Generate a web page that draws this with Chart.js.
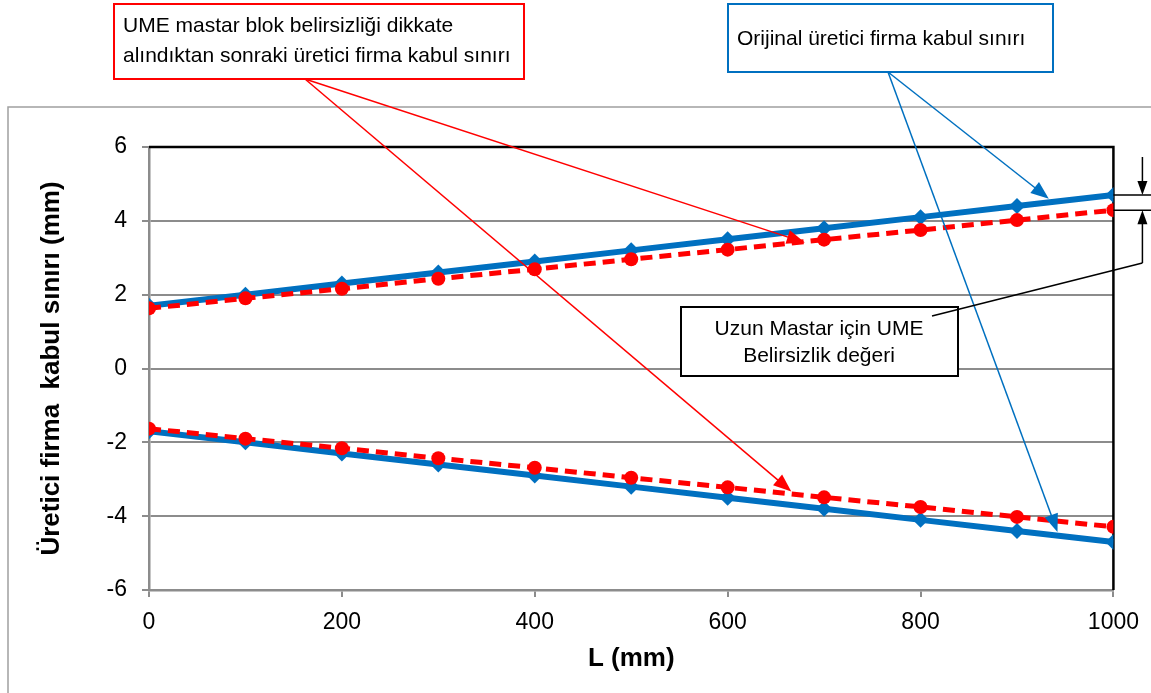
<!DOCTYPE html>
<html lang="tr">
<head>
  <meta charset="UTF-8">
  <title>Üretici firma kabul sınırı</title>
  <script src="https://cdn.jsdelivr.net/npm/chart.js"></script>
  <style>
    body { margin: 0; background: #fff; }
    #wrap { width: 1151px; height: 693px; }
  </style>
</head>
<body>
<div id="wrap"><canvas id="limitChart"></canvas></div>

<script>
  // L (mm)
  const lengths = [0, 100, 200, 300, 400, 500, 600, 700, 800, 900, 1000];
  // original manufacturer limits
  const blueUpper = [1.7, 2.0, 2.3, 2.6, 2.9, 3.2, 3.5, 3.8, 4.1, 4.4, 4.7];
  const blueLower = [-1.7, -2.0, -2.3, -2.6, -2.9, -3.2, -3.5, -3.8, -4.1, -4.4, -4.7];
  // limits after UME uncertainty
  const redUpper = [1.63, 1.9, 2.16, 2.43, 2.69, 2.96, 3.22, 3.49, 3.75, 4.02, 4.29];
  const redLower = [-1.63, -1.9, -2.16, -2.43, -2.69, -2.96, -3.22, -3.49, -3.75, -4.02, -4.29];

  const redText = ['UME mastar blok belirsizliği dikkate', 'alındıktan sonraki üretici firma kabul sınırı'];
  const blueText = 'Orijinal üretici firma kabul sınırı';
  const umeText = ['Uzun Mastar için UME', 'Belirsizlik değeri'];

  const BLUE = '#0070C0';
  const RED = '#FF0000';
  const GRID = '#8c8c8c';

  function pts(ys) {
    return lengths.map((x, i) => ({x: x, y: ys[i]}));
  }

  function arrow(ctx, x1, y1, x2, y2, color, len, half) {
    const a = Math.atan2(y2 - y1, x2 - x1);
    ctx.strokeStyle = color;
    ctx.fillStyle = color;
    ctx.beginPath();
    ctx.moveTo(x1, y1);
    ctx.lineTo(x2 - Math.cos(a) * len * 0.8, y2 - Math.sin(a) * len * 0.8);
    ctx.stroke();
    ctx.beginPath();
    ctx.moveTo(x2, y2);
    ctx.lineTo(x2 - Math.cos(a) * len + Math.sin(a) * half, y2 - Math.sin(a) * len - Math.cos(a) * half);
    ctx.lineTo(x2 - Math.cos(a) * len - Math.sin(a) * half, y2 - Math.sin(a) * len + Math.cos(a) * half);
    ctx.closePath();
    ctx.fill();
  }

  const framePlugin = {
    id: 'frame',
    beforeDraw(chart) {
      const ctx = chart.ctx;
      ctx.save();
      ctx.fillStyle = '#fff';
      ctx.fillRect(0, 0, chart.width, chart.height);
      ctx.strokeStyle = '#a0a0a0';
      ctx.lineWidth = 1.5;
      ctx.strokeRect(8, 107, 1300, 800);
      ctx.restore();
    },
    beforeDatasetsDraw(chart) {
      const ctx = chart.ctx;
      const a = chart.chartArea;
      ctx.save();
      ctx.strokeStyle = '#000';
      ctx.lineWidth = 2.5;
      ctx.beginPath();
      ctx.moveTo(a.left, a.top);
      ctx.lineTo(a.right, a.top);
      ctx.lineTo(a.right, a.bottom);
      ctx.stroke();
      ctx.restore();
    }
  };

  const notesPlugin = {
    id: 'notes',
    afterDraw(chart) {
      const ctx = chart.ctx;
      const sx = chart.scales.x, sy = chart.scales.y;
      const a = chart.chartArea;
      ctx.save();
      ctx.font = '21px Arial, "Liberation Sans", sans-serif';
      ctx.textBaseline = 'middle';

      // red box
      ctx.fillStyle = '#fff';
      ctx.fillRect(114, 4, 410, 75);
      ctx.strokeStyle = RED;
      ctx.lineWidth = 2;
      ctx.strokeRect(114, 4, 410, 75);
      ctx.fillStyle = '#000';
      ctx.textAlign = 'left';
      ctx.fillText(redText[0], 123, 26);
      ctx.fillText(redText[1], 123, 56);

      ctx.lineWidth = 1.5;
      arrow(ctx, 305, 79, sx.getPixelForValue(680), sy.getPixelForValue(3.41), RED, 18, 7);
      arrow(ctx, 305, 79, sx.getPixelForValue(666), sy.getPixelForValue(-3.33), RED, 18, 7);

      // blue box
      ctx.fillStyle = '#fff';
      ctx.fillRect(728, 4, 325, 68);
      ctx.strokeStyle = BLUE;
      ctx.lineWidth = 2;
      ctx.strokeRect(728, 4, 325, 68);
      ctx.fillStyle = '#000';
      ctx.fillText(blueText, 737, 39);

      ctx.lineWidth = 1.5;
      arrow(ctx, 888, 72, sx.getPixelForValue(933), sy.getPixelForValue(4.6), BLUE, 18, 7);
      arrow(ctx, 888, 72, sx.getPixelForValue(942), sy.getPixelForValue(-4.43), BLUE, 18, 7);

      // uncertainty dimension at L = 1000
      const yb = sy.getPixelForValue(blueUpper[blueUpper.length - 1]);
      const yr = sy.getPixelForValue(redUpper[redUpper.length - 1]);
      const dx = a.right + 29;
      ctx.strokeStyle = '#000';
      ctx.lineWidth = 1.5;
      ctx.beginPath();
      ctx.moveTo(a.right, yb); ctx.lineTo(chart.width, yb);
      ctx.moveTo(a.right, yr); ctx.lineTo(chart.width, yr);
      ctx.stroke();
      arrow(ctx, dx, 157, dx, yb, '#000', 14, 5);
      arrow(ctx, dx, 263, dx, yr, '#000', 14, 5);

      // UME box
      ctx.fillStyle = '#fff';
      ctx.fillRect(681, 307, 277, 69);
      ctx.strokeStyle = '#000';
      ctx.lineWidth = 2;
      ctx.strokeRect(681, 307, 277, 69);
      ctx.lineWidth = 1.5;
      ctx.beginPath();
      ctx.moveTo(dx, 263);
      ctx.lineTo(932, 316);
      ctx.stroke();
      ctx.fillStyle = '#000';
      ctx.textAlign = 'center';
      ctx.fillText(umeText[0], 819, 329);
      ctx.fillText(umeText[1], 819, 356);
      ctx.restore();
    }
  };

  const tickFont = {family: 'Arial, "Liberation Sans", sans-serif', size: 23};
  const titleFont = {family: 'Arial, "Liberation Sans", sans-serif', size: 26, weight: 'bold'};

  const ctx = document.getElementById('limitChart').getContext('2d');
  const limitChart = new Chart(ctx, {
    type: 'line',
    data: {
      datasets: [
        {
          label: 'UME sonrası üst',
          data: pts(redUpper),
          borderColor: RED, backgroundColor: RED,
          borderWidth: 5, borderDash: [12, 7],
          pointStyle: 'circle', pointRadius: 7, pointBorderWidth: 0,
          fill: false
        },
        {
          label: 'UME sonrası alt',
          data: pts(redLower),
          borderColor: RED, backgroundColor: RED,
          borderWidth: 5, borderDash: [12, 7],
          pointStyle: 'circle', pointRadius: 7, pointBorderWidth: 0,
          fill: false
        },
        {
          label: 'Orijinal üst',
          data: pts(blueUpper),
          borderColor: BLUE, backgroundColor: BLUE,
          borderWidth: 6,
          pointStyle: 'rectRot', pointRadius: 8, pointBorderWidth: 0,
          fill: false
        },
        {
          label: 'Orijinal alt',
          data: pts(blueLower),
          borderColor: BLUE, backgroundColor: BLUE,
          borderWidth: 6,
          pointStyle: 'rectRot', pointRadius: 8, pointBorderWidth: 0,
          fill: false
        }
      ]
    },
    options: {
      responsive: true,
      maintainAspectRatio: false,
      animation: false,
      layout: {padding: {top: 147, right: 29, left: 0, bottom: 0}},
      plugins: {
        legend: {display: false},
        tooltip: {enabled: false}
      },
      scales: {
        x: {
          type: 'linear',
          min: 0, max: 1000,
          afterFit(scale) { scale.height = 103; },
          ticks: {stepSize: 200, font: tickFont, color: '#000', padding: 12, maxRotation: 0,
                  callback: v => String(v)},
          grid: {drawOnChartArea: false, drawTicks: true, tickLength: 7, color: GRID, lineWidth: 2},
          border: {color: GRID, width: 2.5},
          title: {display: true, text: 'L (mm)', font: titleFont, color: '#000', padding: {top: 0, bottom: 19}}
        },
        y: {
          min: -6, max: 6,
          afterFit(scale) { scale.width = 149; },
          ticks: {stepSize: 2, font: tickFont, color: '#000', padding: 15},
          grid: {tickLength: 7, color: GRID, lineWidth: 2},
          border: {color: GRID, width: 2.5},
          title: {display: true, text: 'Üretici firma  kabul sınırı (mm)', font: titleFont, color: '#000', padding: {top: 36, bottom: 0}}
        }
      }
    },
    plugins: [framePlugin, notesPlugin]
  });
</script>
</body>
</html>
